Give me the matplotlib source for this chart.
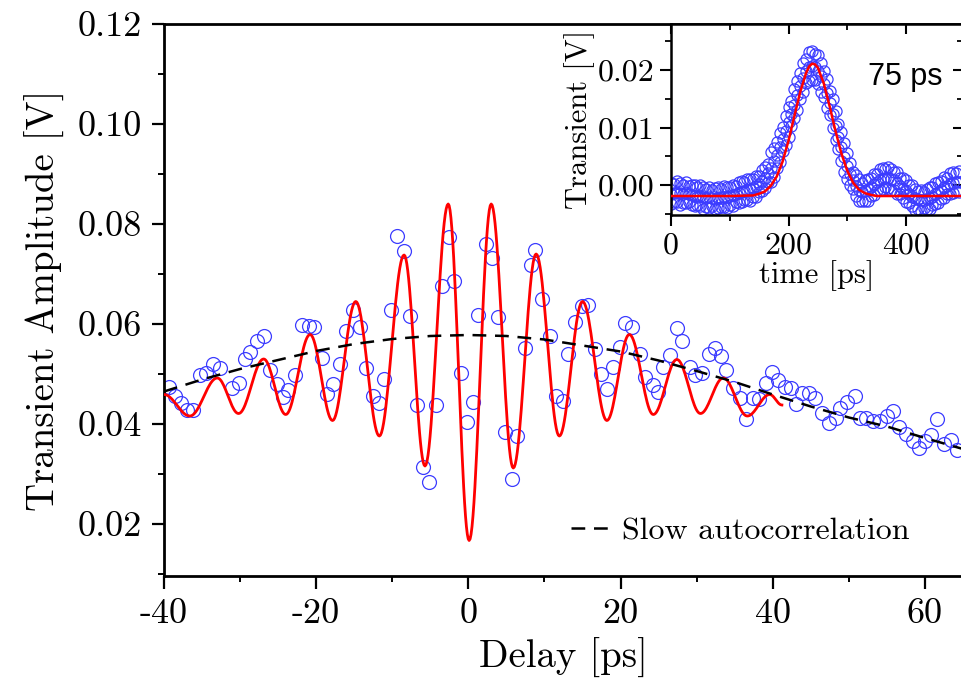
import numpy as np
import matplotlib
matplotlib.use("Agg")
import matplotlib.pyplot as plt
from matplotlib.ticker import MultipleLocator

plt.rcParams['font.family'] = 'cmr10'
plt.rcParams['mathtext.fontset'] = 'cm'
plt.rcParams['axes.unicode_minus'] = False
plt.rcParams['axes.formatter.use_mathtext'] = False

# Main panel: measured points (delay in ps, amplitude in V)
delay = [-39.3, -38.55, -37.8, -37.0, -36.15, -35.3, -34.5, -33.5, -32.7, -31.1,
         -30.2, -29.35, -28.7, -27.8, -26.9, -26.1, -25.2, -24.3, -23.7, -22.8,
         -21.9, -21.0, -20.3, -19.3, -18.55, -17.75, -16.9, -16.1, -15.2, -14.3,
         -13.5, -12.6, -11.8, -11.1, -10.2, -9.35, -8.5, -7.7, -6.8, -6.0,
         -5.15, -4.25, -3.5, -2.6, -1.9, -0.95, -0.15, 0.65, 1.3, 2.3,
         3.05, 3.9, 4.8, 5.7, 6.4, 7.4, 8.2, 8.75, 9.7, 10.7,
         11.5, 12.4, 13.1, 14.0, 14.9, 15.75, 16.6, 17.4, 18.25, 18.95,
         19.9, 20.6, 21.45, 22.55, 23.2, 24.2, 24.95, 25.6, 26.5, 27.35,
         28.1, 29.1, 29.8, 30.65, 31.65, 32.4, 33.15, 33.9, 34.8, 35.7,
         36.5, 37.35, 38.2, 39.1, 39.9, 40.7, 41.6, 42.4, 43.1, 43.9,
         44.7, 45.6, 46.45, 47.35, 48.25, 48.9, 49.8, 50.8, 51.45, 52.3,
         53.2, 54.1, 54.95, 55.75, 56.65, 57.55, 58.4, 59.25, 60.0, 60.75,
         61.6, 62.5, 63.4, 64.15]
amplitude = [0.0475, 0.0457, 0.0442, 0.0429, 0.0429, 0.0498, 0.0502, 0.0521, 0.0512, 0.0472,
             0.0483, 0.0531, 0.0545, 0.0567, 0.0577, 0.0509, 0.0480, 0.0455, 0.0469, 0.0499,
             0.0599, 0.0597, 0.0595, 0.0532, 0.0460, 0.0480, 0.0520, 0.0587, 0.0628, 0.0595,
             0.0512, 0.0456, 0.0442, 0.0490, 0.0628, 0.0776, 0.0746, 0.0617, 0.0438, 0.0314,
             0.0284, 0.0438, 0.0676, 0.0775, 0.0687, 0.0502, 0.0404, 0.0445, 0.0619, 0.0760,
             0.0733, 0.0615, 0.0384, 0.0291, 0.0376, 0.0552, 0.0718, 0.0748, 0.0651, 0.0577,
             0.0457, 0.0447, 0.0540, 0.0605, 0.0636, 0.0638, 0.0551, 0.0501, 0.0470, 0.0514,
             0.0554, 0.0603, 0.0595, 0.0540, 0.0495, 0.0479, 0.0465, 0.0515, 0.0538, 0.0593,
             0.0567, 0.0514, 0.0499, 0.0502, 0.0540, 0.0552, 0.0537, 0.0509, 0.0473, 0.0452,
             0.0410, 0.0452, 0.0450, 0.0482, 0.0505, 0.0489, 0.0475, 0.0473, 0.0440, 0.0463,
             0.0463, 0.0453, 0.0422, 0.0402, 0.0413, 0.0432, 0.0445, 0.0457, 0.0413, 0.0412,
             0.0406, 0.0406, 0.0417, 0.0426, 0.0395, 0.0380, 0.0366, 0.0353, 0.0367, 0.0379,
             0.0410, 0.0360, 0.0369, 0.0349]

# Fit curve: turning points
fit_x = [-40.0, -36.6, -33.0, -30.2, -26.9, -24.0, -20.8, -17.85, -14.8, -11.7,
         -8.45, -5.7, -2.65, 0.1, 3.0, 5.9, 8.9, 11.95, 15.0, 18.2,
         21.15, 24.3, 27.4, 30.5, 33.5, 36.65, 39.6, 41.2]
fit_y = [0.0459, 0.0416, 0.0492, 0.0421, 0.0530, 0.0419, 0.0579, 0.0407, 0.0645, 0.0376,
         0.0738, 0.0316, 0.0840, 0.0167, 0.0840, 0.0312, 0.0740, 0.0376, 0.0645, 0.0407,
         0.0579, 0.0419, 0.0529, 0.0421, 0.0492, 0.0416, 0.0459, 0.0438]

# Slow autocorrelation (dashed)
slow_x = [-40, -35, -30, -25, -20, -15, -10, -5, 0, 5, 10,
          15, 20, 25, 30, 35, 40, 45, 50, 55, 60, 65]
slow_y = [0.0465, 0.0489, 0.0510, 0.0528, 0.0546, 0.0560, 0.0570, 0.0576, 0.0578, 0.0576, 0.0569,
          0.0557, 0.0545, 0.0527, 0.0506, 0.0484, 0.0459, 0.0435, 0.0413, 0.0395, 0.0372, 0.0350]

# Inset: transient trace (time in ps, values in units of 1e-4 V), three scan bands
inset_t = list(range(0, 491, 5))
inset_mid = [-15, -14, -13, -14, -15, -13, -16, -18, -19, -20, -19, -21, -22, -21, -23, -24, -22, -23, -21, -20,
             -19, -17, -16, -14, -12, -11, -9, -7, -5, -2, 2, 7, 13, 21, 30, 41, 53, 66, 80, 94,
             109, 124, 140, 157, 172, 187, 198, 205, 207, 205, 199, 189, 176, 160, 142, 123, 103, 84, 66, 49,
             34, 20, 8, -2, -9, -12, -11, -7, -3, 2, 6, 9, 11, 12, 12, 11, 8, 4, -1, -6,
             -11, -16, -20, -23, -25, -26, -26, -25, -23, -20, -16, -12, -8, -4, -1, 2, 4, 5, 5]
inset_up = [4, 2, 7, 3, 0, 5, -2, 1, 0, -4, 1, -4, -7, -3, -9, -5, -3, -7, -1, -3,
            -4, 1, -2, 5, 7, 5, 11, 10, 10, 16, 16, 26, 32, 37, 57, 65, 75, 91, 101, 120,
            135, 147, 167, 181, 194, 212, 219, 231, 233, 228, 226, 213, 198, 185, 163, 149, 129, 107, 93, 73,
            56, 38, 22, 17, 10, 4, 9, 10, 12, 20, 20, 28, 30, 28, 32, 28, 23, 22, 13, 13,
            8, 0, 0, -6, -10, -8, -12, -6, -4, -4, 4, 5, 7, 14, 13, 21, 23, 21, 25]
inset_low = [-33, -29, -30, -34, -31, -32, -30, -35, -37, -35, -36, -41, -38, -40, -37, -41, -40, -38, -38, -40,
             -35, -36, -30, -31, -30, -26, -26, -27, -21, -21, -12, -10, -5, 6, 6, 14, 30, 40, 59, 70,
             84, 102, 116, 130, 149, 161, 177, 181, 182, 183, 175, 162, 153, 134, 121, 99, 78, 62, 42, 22,
             11, 1, -6, -19, -27, -27, -28, -27, -19, -17, -8, -8, -7, -3, -5, -9, -8, -15, -15, -23,
             -29, -31, -37, -43, -41, -45, -40, -42, -41, -35, -33, -32, -24, -23, -15, -15, -14, -10, -12]

# Inset: Gaussian fit (75 ps)
inset_fit_t = [0, 50, 100, 140, 150, 160, 170, 180, 190, 200, 210, 220, 230, 235, 240,
               245, 250, 260, 270, 280, 290, 300, 310, 320, 330, 340, 350, 400, 450, 497]
inset_fit_v = [-0.0019, -0.0019, -0.0019, -0.0018, -0.0015, -0.0011, -0.0001, 0.0015, 0.0041, 0.0077,
               0.0120, 0.0162, 0.0195, 0.0206, 0.0211, 0.0210, 0.0204, 0.0177, 0.0137, 0.0094,
               0.0055, 0.0025, 0.0004, -0.0008, -0.0014, -0.0017, -0.0019, -0.0019, -0.0019, -0.0019]

BLUE = '#3c3cff'


def through_turning_points(xs, ys, n=24):
    # smooth cosine-shaped path between consecutive turning points
    px, py = [xs[0]], [ys[0]]
    for x0, x1, y0, y1 in zip(xs[:-1], xs[1:], ys[:-1], ys[1:]):
        s = np.linspace(0, 1, n)[1:]
        px.extend(x0 + (x1 - x0) * s)
        py.extend(y0 + (y1 - y0) * (1 - np.cos(np.pi * s)) / 2)
    return px, py


fig = plt.figure(figsize=(9.61, 6.79), dpi=100)
W, H = 961, 679

# ---- main panel ----
ax = fig.add_axes([164 / W, 103 / H, 799 / W, 552 / H])
ax.plot(delay, amplitude, linestyle='None', marker='o', ms=10, mfc='none',
        mec=BLUE, mew=0.9, zorder=2)
fx, fy = through_turning_points(fit_x, fit_y)
ax.plot(fx, fy, color='red', lw=2.0, zorder=3)
slow_line, = ax.plot(slow_x, slow_y, color='black', lw=1.8, dashes=(5.5, 3.5),
                     label='Slow autocorrelation', zorder=4)

ax.set_xlim(-40, 65)
ax.set_ylim(0.0096, 0.12)
ax.xaxis.set_major_locator(MultipleLocator(20))
ax.xaxis.set_minor_locator(MultipleLocator(10))
ax.yaxis.set_major_locator(MultipleLocator(0.02))
ax.yaxis.set_minor_locator(MultipleLocator(0.01))
ax.spines['right'].set_visible(False)
for s in ['left', 'bottom', 'top']:
    ax.spines[s].set_linewidth(2)
ax.tick_params(which='major', direction='out', length=9, width=1.6, labelsize=26, pad=7)
ax.tick_params(which='minor', direction='out', length=4, width=1.4)
ax.set_xlabel('Delay [ps]', fontsize=28, labelpad=6)
ax.set_ylabel('Transient Amplitude [V]', fontsize=28, labelpad=9)
ax.legend(handles=[slow_line], loc='center left', bbox_to_anchor=(0.509, 0.0815),
          frameon=False, fontsize=23, handlelength=1.3, handletextpad=0.3,
          borderpad=0, borderaxespad=0)

# ---- inset ----
axi = fig.add_axes([671 / W, 464 / H, 292 / W, 191 / H])
axi.set_facecolor('white')
t_all = inset_t + inset_t + inset_t
v_all = np.array(inset_mid + inset_up + inset_low) * 1e-4
axi.plot(t_all, v_all, linestyle='None', marker='o', ms=8, mfc='none',
         mec=BLUE, mew=0.9, zorder=2)
axi.plot(inset_fit_t, inset_fit_v, color='red', lw=1.8, zorder=3)
axi.set_xlim(0, 497)
axi.set_ylim(-0.0052, 0.028)
axi.xaxis.set_major_locator(MultipleLocator(200))
axi.xaxis.set_minor_locator(MultipleLocator(100))
axi.yaxis.set_major_locator(MultipleLocator(0.01))
axi.yaxis.set_minor_locator(MultipleLocator(0.005))
for s in axi.spines.values():
    s.set_linewidth(1.8)
axi.tick_params(which='major', direction='out', length=8, width=1.5, labelsize=23, pad=4)
axi.tick_params(which='minor', direction='out', length=4, width=1.3)
axi.set_xlabel('time [ps]', fontsize=22, labelpad=1)
axi.set_ylabel('Transient [V]', fontsize=22, labelpad=2)

top = axi.secondary_xaxis('top')
top.xaxis.set_major_locator(MultipleLocator(200))
top.xaxis.set_minor_locator(MultipleLocator(100))
top.tick_params(which='major', direction='in', length=7, width=1.5, labeltop=False)
top.tick_params(which='minor', direction='in', length=4, width=1.3)
right = axi.secondary_yaxis('right')
right.yaxis.set_major_locator(MultipleLocator(0.01))
right.yaxis.set_minor_locator(MultipleLocator(0.005))
right.tick_params(which='major', direction='in', length=7, width=1.5, labelright=False)
right.tick_params(which='minor', direction='in', length=4, width=1.3)

axi.text(0.674, 0.722, '75 ps', transform=axi.transAxes, family='Liberation Sans',
         fontsize=22, ha='left', va='center')

fig.savefig('out.png', dpi=100)
